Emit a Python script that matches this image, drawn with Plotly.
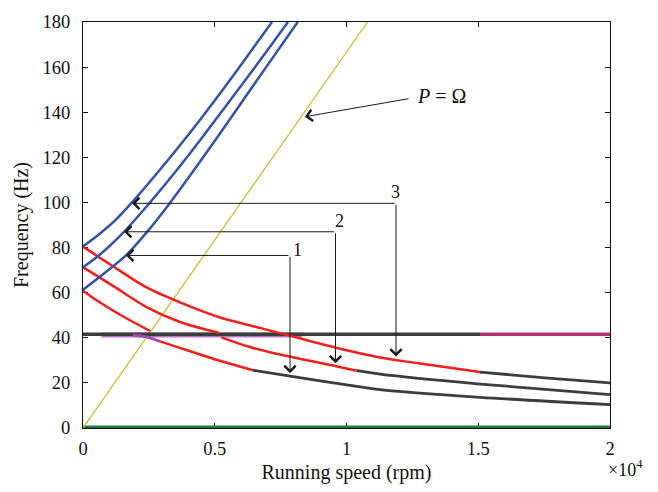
import plotly.graph_objects as go

# Running speed in rpm, natural frequency in Hz
# Forward whirl branches (blue)
fw1_rpm = [0, 600, 1200, 1860, 2800, 4000, 5000, 5844, 7173]
fw1_hz = [80.5, 85.8, 91.8, 100, 112.8, 130, 145.2, 158.5, 180]
fw2_rpm = [0, 600, 1556, 2543, 3500, 4500, 6433, 7780]
fw2_hz = [71.3, 76.5, 87, 100, 113.5, 128.5, 158.5, 180]
fw3_rpm = [0, 800, 1632, 2400, 3250, 4500, 5700, 6950, 8150]
fw3_hz = [61.3, 68.5, 76.5, 86.5, 99, 119, 139, 160, 180]

# Backward whirl branches (red part, then dark part)
bw1_rpm = [0, 1138, 2429, 3681, 5199, 6500, 7700, 9601, 11271, 12789, 15066]
bw1_hz = [80.4, 71.7, 62.2, 55.7, 49.0, 45.0, 41.4, 35.6, 31.3, 28.6, 24.8]
bw1d_rpm = [15066, 17534, 20000]
bw1d_hz = [24.8, 22.2, 20.0]

bw2_rpm = [0, 1138, 2429, 3681, 5150]
bw2_hz = [71.3, 63.0, 53.5, 47.0, 42.2]
bw2b_rpm = [5250, 6300, 7476, 9600, 10398]
bw2b_hz = [40.2, 36.0, 32.6, 27.4, 25.4]
bw2d_rpm = [10398, 11271, 15066, 20000]
bw2d_hz = [25.4, 23.9, 19.5, 14.8]

bw3_rpm = [0, 531, 1150, 1900, 2550]
bw3_hz = [60.9, 56.5, 52.0, 47.0, 43.0]
bw3p_rpm = [1900, 2400, 2922]
bw3p_hz = [41.2, 40.4, 38.4]
bw3b_rpm = [2922, 3500, 4440, 5199, 6452]
bw3b_hz = [38.4, 36.2, 32.6, 29.8, 25.6]
bw3d_rpm = [6452, 7856, 9500, 11271, 15066, 20000]
bw3d_hz = [25.6, 23.0, 20.0, 17.0, 13.6, 10.4]

# Speed-independent modes
flat_rpm = [0, 15066]
flat_hz = [41.6, 41.6]
flat2_rpm = [15066, 20000]
flat2_hz = [41.6, 41.6]
flatp_rpm = [700, 8300]
flatp_hz = [41.2, 41.2]
zero_rpm = [0, 20000]
zero_g_hz = [0.55, 0.55]
zero_p_hz = [0.0, 0.0]

# Synchronous excitation line P = Omega
sync_rpm = [0, 10800]
sync_hz = [0, 180]

x_ticks = [0, 5000, 10000, 15000, 20000]
x_ticktext = ["0", "0.5", "1", "1.5", "2"]

BLUE = "#3352a8"
RED = "#f0201c"
DARK = "#3c3c3c"
MAG = "#b0307a"
PURP = "#a048b0"
GREEN = "#1f7a3c"
YEL = "#c8c03c"
FONT = "Liberation Serif"

fig = go.Figure()


def add(x, y, color, width, spline=True, opacity=1.0):
    fig.add_trace(go.Scatter(
        x=x, y=y, mode="lines", showlegend=False, hoverinfo="skip", opacity=opacity,
        line=dict(color=color, width=width,
                  shape="spline" if spline else "linear", smoothing=0.8)))


add(zero_rpm, zero_p_hz, "#a03090", 2.5, False)
add(zero_rpm, zero_g_hz, GREEN, 2.4, False)
add(sync_rpm, sync_hz, YEL, 1.3, False)
add(flatp_rpm, flatp_hz, PURP, 5, False, 0.75)
add(flat_rpm, flat_hz, DARK, 3.5, False)
add(flat2_rpm, flat2_hz, MAG, 3.5, False)
add(bw3p_rpm, bw3p_hz, PURP, 3)
for xs, ys in [(bw1_rpm, bw1_hz), (bw2_rpm, bw2_hz), (bw2b_rpm, bw2b_hz),
               (bw3_rpm, bw3_hz), (bw3b_rpm, bw3b_hz)]:
    add(xs, ys, RED, 2.5)
for xs, ys in [(bw1d_rpm, bw1d_hz), (bw2d_rpm, bw2d_hz), (bw3d_rpm, bw3d_hz)]:
    add(xs, ys, DARK, 2.8)
for xs, ys in [(fw1_rpm, fw1_hz), (fw2_rpm, fw2_hz), (fw3_rpm, fw3_hz)]:
    add(xs, ys, BLUE, 2.5)

# Mode labels: corner of the bracket, tip on forward branch, tip on backward branch
brackets = [
    ("1", 7856, 76.5, 1632, 24.3, 8159, 78.8),
    ("2", 9583, 87.0, 1556, 28.7, 9753, 91.7),
    ("3", 11879, 99.6, 1860, 31.7, 11841, 104.8),
]
arrow_style = dict(showarrow=True, arrowhead=4, arrowsize=2.2, arrowwidth=1,
                   arrowcolor="#1a1a1a", axref="x", ayref="y", text="")
for lab, cx, cy, hx, vy, lx, ly in brackets:
    fig.add_annotation(x=hx, y=cy, ax=cx, ay=cy, **arrow_style)
    fig.add_annotation(x=cx, y=vy, ax=cx, ay=cy, **arrow_style)
    fig.add_annotation(x=lx, y=ly, text=lab, showarrow=False,
                       font=dict(family=FONT, size=18, color="#111"))

fig.add_annotation(x=8420, y=138.0, ax=12410, ay=146.1, **arrow_style)
fig.add_annotation(x=12600, y=147.2, text="<i>P</i> = Ω", showarrow=False,
                   xanchor="left", font=dict(family=FONT, size=20, color="#111"))

fig.add_annotation(xref="paper", yref="paper", x=1.03, y=-0.066, yanchor="top",
                   text="×10<sup>4</sup>", showarrow=False, xanchor="center",
                   font=dict(family=FONT, size=18, color="#111"))

axis_common = dict(showline=True, linecolor="#111", linewidth=1.2, mirror="ticks",
                   ticks="inside", ticklen=5, tickcolor="#111", tickwidth=1,
                   showgrid=False, zeroline=False,
                   tickfont=dict(family=FONT, size=18.5, color="#111"),
                   layer="below traces")

fig.update_layout(
    width=658, height=492,
    margin=dict(l=83, r=48, t=14, b=64),
    paper_bgcolor="white", plot_bgcolor="white",
    xaxis=dict(range=[0, 20000], tickvals=x_ticks, ticktext=x_ticktext,
               ticklabelstandoff=4,
               title=dict(text="Running speed (rpm)", font=dict(family=FONT, size=20, color="#111"),
                          standoff=6),
               **axis_common),
    yaxis=dict(range=[0, 180], dtick=20, ticklabelstandoff=8,
               title=dict(text="Frequency (Hz)", font=dict(family=FONT, size=20, color="#111"),
                          standoff=8),
               **axis_common),
)

fig.write_html("out.html")
